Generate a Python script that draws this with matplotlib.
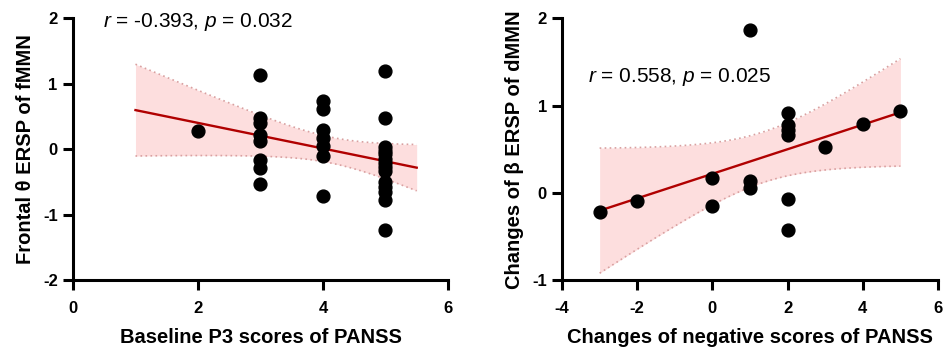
import numpy as np
import matplotlib
matplotlib.use('agg')
from matplotlib import pyplot as plt

# left panel: baseline P3 vs frontal theta ERSP
p3_scores = [2,
             3, 3, 3, 3, 3, 3, 3, 3,
             4, 4, 4, 4, 4, 4, 4,
             5, 5, 5, 5, 5, 5, 5, 5, 5, 5, 5, 5, 5, 5]
theta_ersp = [0.28,
              1.14, 0.47, 0.40, 0.22, 0.12, -0.17, -0.29, -0.53,
              0.73, 0.62, 0.29, 0.17, 0.05, -0.11, -0.71,
              1.20, 0.47, 0.03, -0.03, -0.08, -0.15, -0.21, -0.27, -0.34,
              -0.50, -0.58, -0.65, -0.77, -1.24]

# right panel: change in negative scores vs change in beta ERSP
neg_change = [-3, -2, 0, 0, 1, 1, 1, 2, 2, 2, 2, 2, 2, 3, 4, 5]
beta_change = [-0.22, -0.09, 0.17, -0.15, 1.87, 0.13, 0.05,
               0.91, 0.78, 0.72, 0.66, -0.07, -0.43, 0.53, 0.79, 0.94]

LINE_COLOR = '#B00000'
BAND_COLOR = '#FDDEDE'
BAND_EDGE = '#D9A0A0'
FONT = 'Liberation Sans'

plt.rcParams['axes.unicode_minus'] = False
plt.rcParams['mathtext.fontset'] = 'custom'
plt.rcParams['mathtext.rm'] = FONT
plt.rcParams['mathtext.it'] = FONT + ':italic'


def fit_band(xs, ys, x_lo, x_hi, t_crit):
    x = np.asarray(xs, float)
    y = np.asarray(ys, float)
    n = len(x)
    slope, icpt = np.polyfit(x, y, 1)
    resid = y - (slope * x + icpt)
    s = np.sqrt(np.sum(resid ** 2) / (n - 2))
    gx = np.linspace(x_lo, x_hi, 100)
    gy = slope * gx + icpt
    se = s * np.sqrt(1 / n + (gx - x.mean()) ** 2 / np.sum((x - x.mean()) ** 2))
    return gx, gy, gy - t_crit * se, gy + t_crit * se


def panel(ax, xs, ys, x_range, t_crit, xlim, ylim, xticks, yticks, xlabel, ylabel, note, note_pos):
    gx, gy, lo, hi = fit_band(xs, ys, *x_range, t_crit)
    ax.fill_between(gx, lo, hi, color=BAND_COLOR, lw=0, zorder=1)
    ax.plot(gx, lo, color=BAND_EDGE, lw=1.2, ls=(0, (1, 2)), zorder=2)
    ax.plot(gx, hi, color=BAND_EDGE, lw=1.2, ls=(0, (1, 2)), zorder=2)
    ax.plot(gx, gy, color=LINE_COLOR, lw=1.7, zorder=3)
    ax.scatter(xs, ys, s=85, color='black', zorder=4, clip_on=False)

    ax.set_xlim(*xlim)
    ax.set_ylim(*ylim)
    ax.set_xticks(xticks)
    ax.set_yticks(yticks)
    ax.spines['top'].set_visible(False)
    ax.spines['right'].set_visible(False)
    for sp in ('left', 'bottom'):
        ax.spines[sp].set_linewidth(2.2)
    ax.tick_params(width=2.2, length=7, labelsize=12)
    ax.tick_params(axis='x', pad=8)
    ax.tick_params(axis='y', pad=4)
    for lab in ax.get_xticklabels() + ax.get_yticklabels():
        lab.set_fontweight('bold')
        lab.set_family(FONT)
    ax.set_xlabel(xlabel, fontsize=14.5, fontweight='bold', family=FONT, labelpad=9)
    ax.set_ylabel(ylabel, fontsize=14.5, fontweight='bold', family=FONT, labelpad=6)
    ax.text(*note_pos, note, transform=ax.transAxes, fontsize=15, family=FONT,
            va='center', ha='left')


fig = plt.figure(figsize=(9.43, 3.48), dpi=100)
ax1 = fig.add_axes([0.0774, 0.1954, 0.3976, 0.7516])
ax2 = fig.add_axes([0.596, 0.1954, 0.3987, 0.7516])

panel(ax1, p3_scores, theta_ersp, (1, 5.5), 2.048, (0, 6), (-2, 2),
      [0, 2, 4, 6], [-2, -1, 0, 1, 2],
      'Baseline P3 scores of PANSS', 'Frontal θ ERSP of fMMN',
      '$\\it{r}$ = -0.393, $\\it{p}$ = 0.032', (0.08, 0.985))
panel(ax2, neg_change, beta_change, (-3, 5), 2.145, (-4, 6), (-1, 2),
      [-4, -2, 0, 2, 4, 6], [-1, 0, 1, 2],
      'Changes of negative scores of PANSS', 'Changes of β ERSP of dMMN',
      '$\\it{r}$ = 0.558, $\\it{p}$ = 0.025', (0.07, 0.775))

fig.savefig('out.png', dpi=100)
